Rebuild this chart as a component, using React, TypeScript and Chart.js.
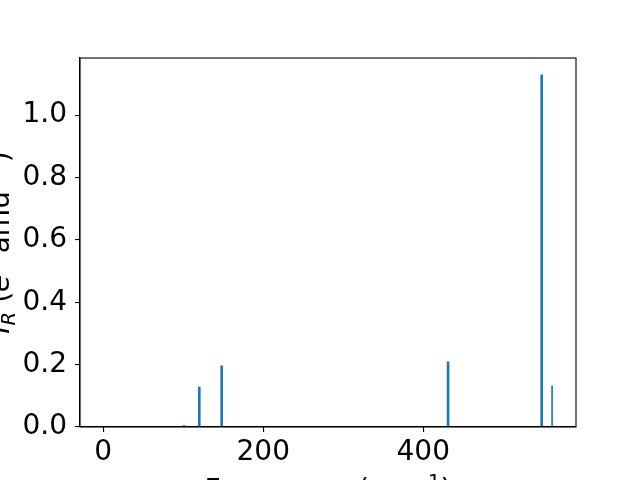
import React, { useEffect, useRef } from "react";
import { Chart, registerables } from "chart.js";

Chart.register(...registerables);

// Frequencies (cm^-1) and intensities
const frequencies = [101, 120, 148, 431, 548];
const intensities = [0.005, 0.128, 0.196, 0.209, 1.129];
const thinFrequencies = [561];
const thinIntensities = [0.132];

const xTicks = [0, 200, 400];
const yTicks = [0, 0.2, 0.4, 0.6, 0.8, 1.0];

const X_MIN = -29.1;
const X_MAX = 590.9;
const Y_MIN = 0;
const Y_MAX = 1.183;

const FONT = "DejaVu Sans";
const BLUE = "#1f77b4";

type Piece = { t: string; italic?: boolean; sub?: boolean; sup?: boolean };

const yTitle: Piece[] = [
  { t: "I", italic: true },
  { t: "R", italic: true, sub: true },
  { t: " (" },
  { t: "e", italic: true },
  { t: "2", sup: true },
  { t: " amu" },
  { t: "−1", sup: true },
  { t: ")" },
];
const xTitle: Piece[] = [
  { t: "Frequency (cm" },
  { t: "−1", sup: true },
  { t: ")" },
];

function pieceFont(p: Piece, size: number) {
  const s = p.sub || p.sup ? size * 0.7 : size;
  return `${p.italic ? "oblique " : ""}${s}px "${FONT}"`;
}

function drawPieces(ctx: CanvasRenderingContext2D, pieces: Piece[], size: number) {
  let total = 0;
  const widths = pieces.map((p) => {
    ctx.font = pieceFont(p, size);
    const w = ctx.measureText(p.t).width;
    total += w;
    return w;
  });
  let x = -total / 2;
  ctx.textAlign = "left";
  ctx.textBaseline = "alphabetic";
  pieces.forEach((p, i) => {
    ctx.font = pieceFont(p, size);
    let dy = 0;
    if (p.sup) dy = -size * 0.38;
    if (p.sub) dy = size * 0.2;
    ctx.fillText(p.t, x, dy);
    x += widths[i];
  });
}

const framePlugin = {
  id: "frame",
  afterDraw(chart: any) {
    const { ctx, chartArea } = chart;
    ctx.save();
    ctx.strokeStyle = "#000";
    ctx.lineWidth = 1.1;
    ctx.strokeRect(
      chartArea.left,
      chartArea.top,
      chartArea.right - chartArea.left,
      chartArea.bottom - chartArea.top
    );
    ctx.fillStyle = "#000";
    // x title
    ctx.save();
    ctx.translate((chartArea.left + chartArea.right) / 2, chartArea.bottom + 71.5);
    drawPieces(ctx, xTitle, 28);
    ctx.restore();
    // y title
    ctx.save();
    ctx.translate(9, (chartArea.top + chartArea.bottom) / 2);
    ctx.rotate(-Math.PI / 2);
    drawPieces(ctx, yTitle, 28);
    ctx.restore();
    ctx.restore();
  },
};

export default function App() {
  const ref = useRef<HTMLCanvasElement | null>(null);

  useEffect(() => {
    if (!ref.current) return;
    const gridOpts = {
      drawOnChartArea: false,
      drawTicks: true,
      tickLength: 5,
      color: "#000",
      lineWidth: 1.1,
      offset: false,
    };
    const chart = new Chart(ref.current, {
      type: "bar",
      data: {
        datasets: [
          {
            data: frequencies.map((f, i) => ({ x: f, y: intensities[i] })),
            backgroundColor: BLUE,
            borderWidth: 0,
            barThickness: 2,
            minBarLength: 1,
            grouped: false,
          } as any,
          {
            data: thinFrequencies.map((f, i) => ({ x: f, y: thinIntensities[i] })),
            backgroundColor: BLUE,
            borderWidth: 0,
            barThickness: 1,
            grouped: false,
          } as any,
        ],
      },
      options: {
        responsive: false,
        animation: false,
        layout: { padding: { top: 58, right: 64, left: 0, bottom: 0 } },
        plugins: {
          legend: { display: false },
          tooltip: { enabled: false },
          title: { display: false },
        },
        scales: {
          x: {
            type: "linear",
            min: X_MIN,
            max: X_MAX,
            offset: false,
            afterBuildTicks: (scale: any) => {
              scale.ticks = xTicks.map((v) => ({ value: v }));
            },
            afterFit: (scale: any) => {
              scale.height = 53;
            },
            ticks: {
              color: "#000",
              font: { family: FONT, size: 28 },
              padding: 4,
              maxRotation: 0,
              autoSkip: false,
              callback: (v: any) => String(v),
            },
            grid: gridOpts,
            border: { display: true, color: "#000", width: 1.1 },
          },
          y: {
            type: "linear",
            min: Y_MIN,
            max: Y_MAX,
            afterBuildTicks: (scale: any) => {
              scale.ticks = yTicks.map((v) => ({ value: v }));
            },
            afterFit: (scale: any) => {
              scale.width = 80;
            },
            ticks: {
              color: "#000",
              font: { family: FONT, size: 28 },
              padding: 8,
              autoSkip: false,
              callback: (v: any) => Number(v).toFixed(1),
            },
            grid: gridOpts,
            border: { display: true, color: "#000", width: 1.1 },
          },
        },
      } as any,
      plugins: [framePlugin],
    });
    return () => chart.destroy();
  }, []);

  return (
    <div style={{ position: "fixed", left: 0, top: 0, width: 640, height: 480, background: "#fff" }}>
      <canvas ref={ref} width={640} height={480} style={{ display: "block" }} />
    </div>
  );
}
